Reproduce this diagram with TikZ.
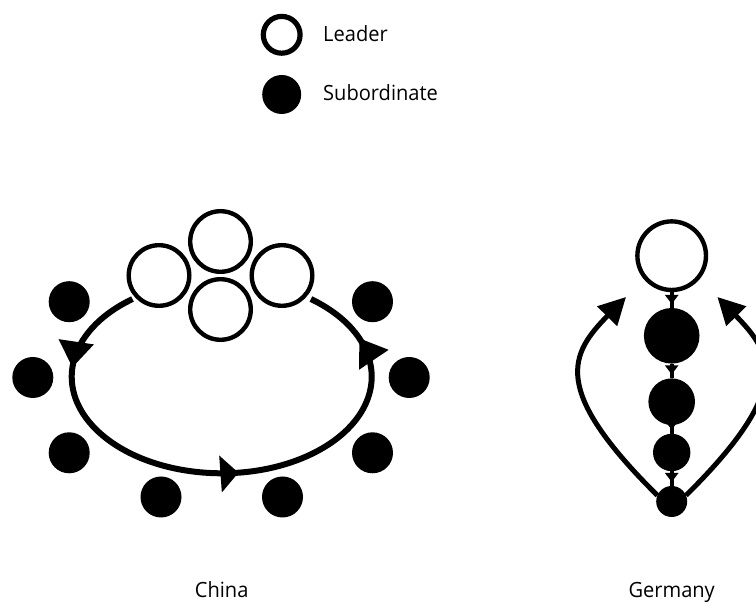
\documentclass[tikz,border=0pt]{standalone}
\usepackage{fontspec}
\setmainfont{Open Sans}[FakeStretch=0.955]
\usetikzlibrary{arrows.meta,decorations.markings}

\begin{document}
\begin{tikzpicture}[x=1pt,y=1pt,
  leadnode/.style={circle,draw=black,fill=white,line width=4.4pt,inner sep=0pt,outer sep=0pt,minimum size=#1},
  subnode/.style={circle,fill=black,inner sep=0pt,outer sep=0pt,minimum size=#1},
  txt/.style={font=\fontsize{21}{25}\selectfont,inner sep=0pt},
  cycleline/.style={line width=6pt,postaction={decorate},
    decoration={markings,
      mark=at position 0.158 with {\arrow{Triangle[length=26pt,width=34pt]}},
      mark=at position 0.528 with {\arrow{Triangle[length=18pt,width=36pt]}},
      mark=at position 0.895 with {\arrow{Triangle[length=26pt,width=34pt]}}}},
  chainline/.style={line width=4pt,postaction={decorate},
    decoration={markings,
      mark=at position -4pt with {\arrow{Triangle[length=9pt,width=13pt]}}}},
  returnline/.style={line width=5pt,-{Triangle[length=27pt,width=27pt]}}
]
\useasboundingbox (0,0) rectangle (756,604);
\clip (0,0) rectangle (756,604);

% legend
\node[leadnode=36.8pt,line width=5.2pt] (keylead) at (281.7,569.2) {};
\node[subnode=39pt] (keysub) at (281.7,509.5) {};
\node[txt,anchor=base west] (keyleadtxt) at (323,562.3) {Leader};
\node[txt,anchor=base west] (keysubtxt) at (323,503.3) {Subordinate};

% China: subordinates around the loop
\node[subnode=41pt] (cnUL) at (69.2,302.3) {};
\node[subnode=41pt] (cnML) at (32.8,226.5) {};
\node[subnode=41pt] (cnLL) at (69.2,151.2) {};
\node[subnode=41pt] (cnBL) at (161,107) {};
\node[subnode=41pt] (cnBR) at (282.5,107) {};
\node[subnode=41pt] (cnLR) at (372.5,151.2) {};
\node[subnode=41pt] (cnMR) at (409.2,226.5) {};
\node[subnode=41pt] (cnUR) at (372.5,302.3) {};

% China: loop from the leaders round the group and back
\coordinate (loopstart) at ({221.7+150*cos(126.5)},{227.3+96.6*sin(126.5)});
\draw[cycleline] (loopstart) arc[start angle=126.5,end angle=413.5,x radius=150,y radius=96.6];

% China: leaders
\node[leadnode=60.6pt] (cnT) at (220.5,362.5) {};
\node[leadnode=60.6pt] (cnL) at (159,328.5) {};
\node[leadnode=60.6pt] (cnR) at (282,328.5) {};
\node[leadnode=60.6pt] (cnB) at (220.5,294.5) {};

% Germany: chain of command
\node[leadnode=68.6pt] (de0) at (671.7,348.3) {};
\node[subnode=55.6pt] (de1) at (671.7,268.2) {};
\node[subnode=46.6pt] (de2) at (671.7,202.3) {};
\node[subnode=37.4pt] (de3) at (671.7,151.5) {};
\node[subnode=31pt] (de4) at (671.7,102.5) {};
\draw[chainline] (de0) -- (de1);
\draw[chainline] (de1) -- (de2);
\draw[chainline] (de2) -- (de3);
\draw[chainline] (de3) -- (de4);

% Germany: feedback from the bottom back to the top
\coordinate (detipL) at (626,307);
\coordinate (detipR) at (717.4,307);
\draw[returnline] (de4.157) .. controls (550,215) and (570,250) .. (detipL);
\draw[returnline] (de4.23) .. controls (793.4,215) and (773.4,250) .. (detipR);

% captions
\node[txt,anchor=base] (cntxt) at (221.7,6) {China};
\node[txt,anchor=base] (detxt) at (671.7,6) {Germany};
\end{tikzpicture}
\end{document}
